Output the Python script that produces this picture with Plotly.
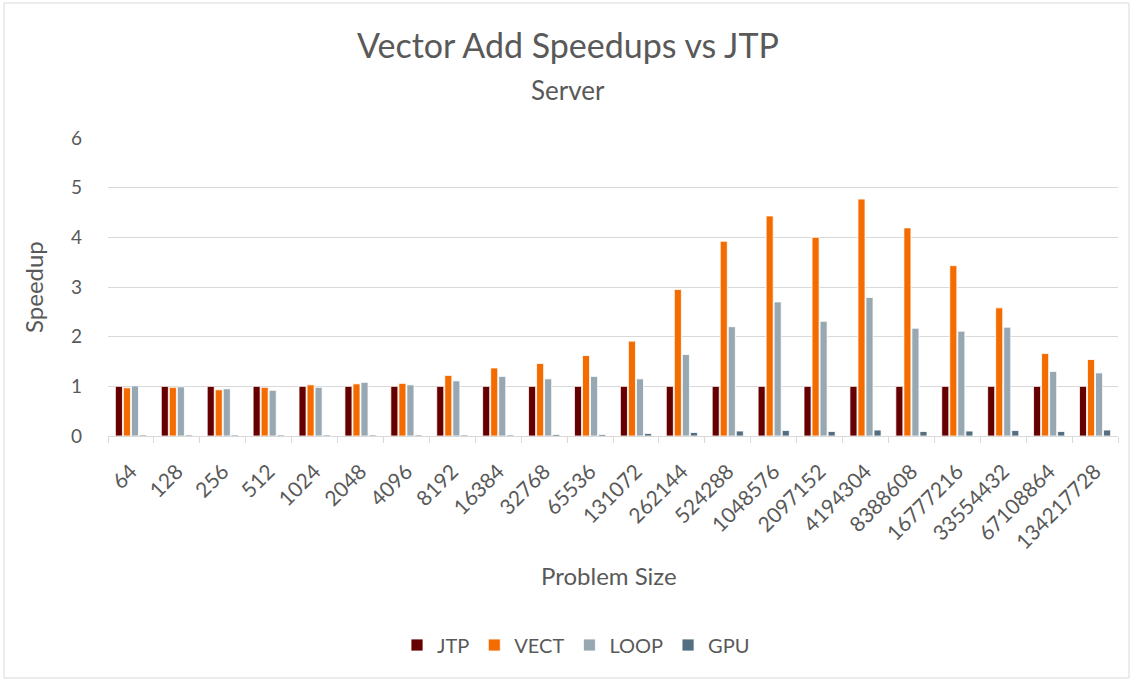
import plotly.graph_objects as go

sizes = ["64", "128", "256", "512", "1024", "2048", "4096", "8192", "16384", "32768",
         "65536", "131072", "262144", "524288", "1048576", "2097152", "4194304",
         "8388608", "16777216", "33554432", "67108864", "134217728"]
jtp = [1.0] * 22
vect = [0.97, 0.98, 0.93, 0.98, 1.03, 1.05, 1.06, 1.22, 1.37, 1.46, 1.62, 1.91, 2.95,
        3.92, 4.43, 4.00, 4.77, 4.19, 3.43, 2.58, 1.66, 1.54]
loop = [1.01, 0.99, 0.95, 0.92, 0.98, 1.08, 1.03, 1.11, 1.20, 1.15, 1.20, 1.15, 1.64,
        2.20, 2.70, 2.31, 2.79, 2.17, 2.11, 2.19, 1.30, 1.27]
gpu = [0.02, 0.02, 0.02, 0.02, 0.02, 0.02, 0.02, 0.02, 0.02, 0.03, 0.03, 0.05, 0.07,
       0.10, 0.11, 0.09, 0.12, 0.09, 0.10, 0.11, 0.09, 0.12]

series = [("JTP", jtp, "#660000"), ("VECT", vect, "#F46B00"),
          ("LOOP", loop, "#97A8B3"), ("GPU", gpu, "#546E80")]

FONT = "Lato"
GREY = "#595959"

fig = go.Figure()
for name, vals, col in series:
    fig.add_trace(go.Bar(x=sizes, y=vals, name=name, marker_color=col,
                         marker_line=dict(color="white", width=0.8)))

W, H = 1133, 681
L, R, T, B = 108, 15, 138, 245
pw, ph = W - L - R, H - T - B

def px2x(px):
    return (px - L) / pw

def py2y(py):
    return (H - B - py) / ph

fig.update_layout(
    width=W, height=H,
    margin=dict(l=L, r=R, t=T, b=B),
    paper_bgcolor="white", plot_bgcolor="white",
    barmode="group", bargap=0.3, bargroupgap=0.12,
    font=dict(family=FONT, color=GREY, size=18),
    showlegend=True,
    legend=dict(orientation="h", x=px2x(576), xanchor="center", y=py2y(645), yanchor="middle",
                font=dict(size=20, color=GREY), traceorder="normal", itemwidth=30),
    xaxis=dict(type="category", tickangle=-45, showgrid=False,
               showline=True, linecolor="#d9d9d9", linewidth=1,
               ticks="outside", tickson="boundaries", tickcolor="#d9d9d9", ticklen=6,
               ticklabelstandoff=14,
               tickfont=dict(size=21, color=GREY)),
    yaxis=dict(range=[0, 6], dtick=1, showgrid=True, gridcolor="#d9d9d9", gridwidth=1,
               zeroline=False, showline=False, tickfont=dict(size=19, color=GREY),
               ticks="", ticklabelstandoff=25),
    annotations=[
        dict(text="Vector Add Speedups vs JTP", xref="paper", yref="paper",
             x=px2x(568), y=py2y(45), xanchor="center", yanchor="middle",
             showarrow=False, font=dict(size=34, color=GREY, family=FONT)),
        dict(text="Server", xref="paper", yref="paper",
             x=px2x(568), y=py2y(90), xanchor="center", yanchor="middle",
             showarrow=False, font=dict(size=26, color=GREY, family=FONT)),
        dict(text="Problem Size", xref="paper", yref="paper",
             x=px2x(609), y=py2y(575), xanchor="center", yanchor="middle",
             showarrow=False, font=dict(size=24, color=GREY, family=FONT)),
        dict(text="Speedup", xref="paper", yref="paper", textangle=-90,
             x=px2x(33), y=py2y(287), xanchor="center", yanchor="middle",
             showarrow=False, font=dict(size=24, color=GREY, family=FONT)),
    ],
    shapes=[dict(type="rect", xref="paper", yref="paper",
                 x0=px2x(4), x1=px2x(1129), y0=py2y(678), y1=py2y(3),
                 line=dict(color="#d9d9d9", width=1), layer="below")],
)

fig.write_html("out.html", config={"displayModeBar": False},
               post_script="document.body.style.margin='0';")
